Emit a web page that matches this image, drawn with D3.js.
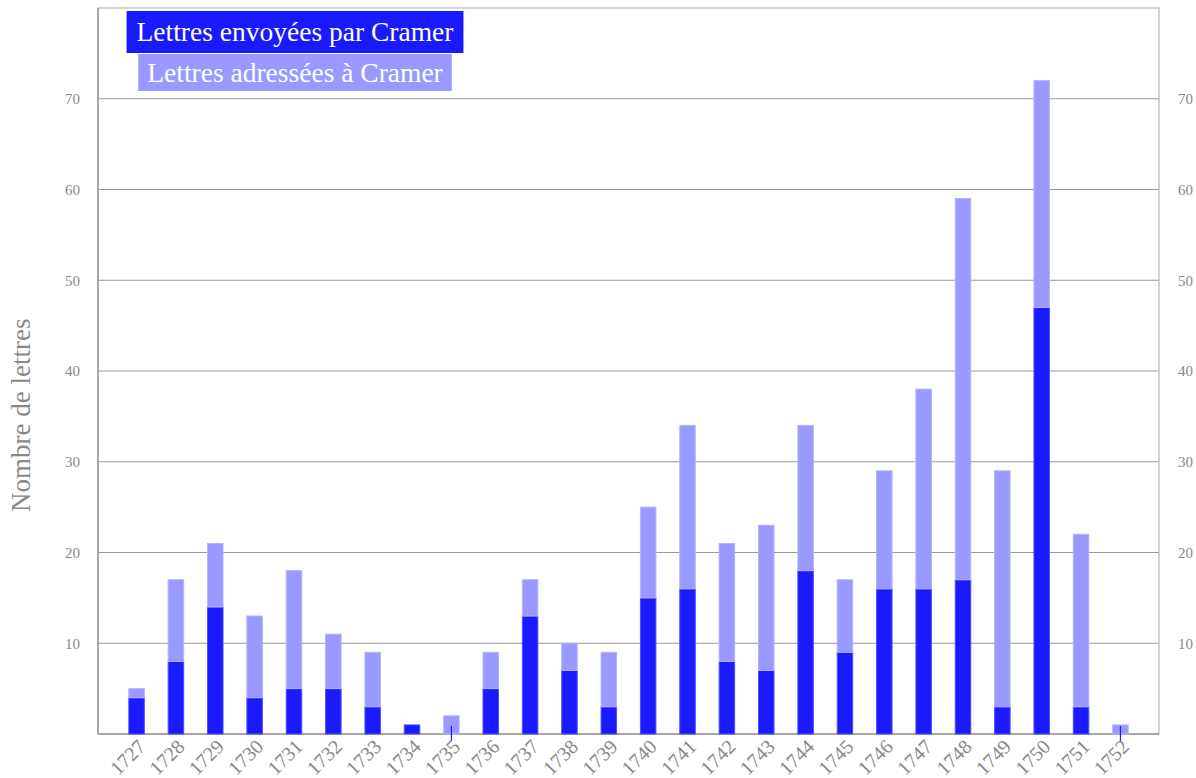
<!DOCTYPE html>
<html>
<head>
<meta charset="utf-8">
<script src="https://cdn.jsdelivr.net/npm/d3@7"></script>
<style>
  html, body { margin: 0; padding: 0; background: #fff; }
  svg { display: block; font-family: "Liberation Serif", "Times New Roman", serif; }
</style>
</head>
<body>
<svg id="chart" width="1196" height="778"></svg>
<script>
// Correspondance de Gabriel Cramer, par année
const years = [1727, 1728, 1729, 1730, 1731, 1732, 1733, 1734, 1735, 1736, 1737, 1738, 1739,
               1740, 1741, 1742, 1743, 1744, 1745, 1746, 1747, 1748, 1749, 1750, 1751, 1752];
const sent     = [4, 8, 14, 4, 5, 5, 3, 1, 0, 5, 13, 7, 3, 15, 16, 8, 7, 18, 9, 16, 16, 17, 3, 47, 3, 0];
const received = [1, 9, 7, 9, 13, 6, 6, 0, 2, 4, 4, 3, 6, 10, 18, 13, 16, 16, 8, 13, 22, 42, 26, 25, 19, 1];
const yTicks = [10, 20, 30, 40, 50, 60, 70];
const seriesNames = ["Lettres envoyées par Cramer", "Lettres adressées à Cramer"];
const colors = ["#1a1aff", "#9999ff"];
const yTitle = "Nombre de lettres";

const margin = { top: 8, right: 37, bottom: 44, left: 98 };
const W = 1196, H = 778;
const iw = W - margin.left - margin.right;
const ih = H - margin.top - margin.bottom;

const svg = d3.select("#chart");
const g = svg.append("g").attr("transform", `translate(${margin.left},${margin.top})`);

const x = d3.scalePoint().domain(years).range([0, iw]).padding(0.98);
const y = d3.scaleLinear().domain([0, 80]).range([ih, 0]);
const barW = 15.5;

// grid lines
g.append("g").selectAll("line").data(yTicks).join("line")
  .attr("x1", 0).attr("x2", iw)
  .attr("y1", d => y(d)).attr("y2", d => y(d))
  .attr("stroke", "#999").attr("stroke-width", 1);

// frame
g.append("rect").attr("x", 0).attr("y", 0).attr("width", iw).attr("height", ih)
  .attr("fill", "none").attr("stroke", "#aaa").attr("stroke-width", 1);
g.append("line").attr("x1", 0).attr("x2", iw).attr("y1", ih).attr("y2", ih)
  .attr("stroke", "#999").attr("stroke-width", 1.5);
g.append("line").attr("x1", 0).attr("x2", 0).attr("y1", 0).attr("y2", ih)
  .attr("stroke", "#999").attr("stroke-width", 1.5);

// stacked bars
const rows = years.map((yr, i) => ({ year: yr, sent: sent[i], received: received[i] }));
const stack = d3.stack().keys(["sent", "received"])(rows);

const layers = g.append("g").selectAll("g").data(stack).join("g")
  .attr("fill", (d, i) => colors[i])
  .attr("stroke", (d, i) => i === 0 ? "#4d4dff" : "#b3b3ff")
  .attr("stroke-width", 1);

layers.selectAll("rect").data(d => d.filter(p => p[1] > p[0])).join("rect")
  .attr("x", d => x(d.data.year) - barW / 2)
  .attr("width", barW)
  .attr("y", d => y(d[1]))
  .attr("height", d => y(d[0]) - y(d[1]));

// zero-valued "sent" entries shown as a short marker crossing the axis
g.append("g").selectAll("line").data(rows.filter(r => r.sent === 0)).join("line")
  .attr("x1", d => x(d.year)).attr("x2", d => x(d.year))
  .attr("y1", y(0) - 8).attr("y2", y(0) + 7)
  .attr("stroke", colors[0]).attr("stroke-width", 1.2);

// y tick labels, both sides
const tickFont = 15, tickColor = "#888";
g.append("g").selectAll("text").data(yTicks).join("text")
  .attr("x", -18).attr("y", d => y(d)).attr("dy", "0.35em")
  .attr("text-anchor", "end").attr("font-size", tickFont).attr("fill", tickColor)
  .text(d => d);
g.append("g").selectAll("text").data(yTicks).join("text")
  .attr("x", iw + 19).attr("y", d => y(d)).attr("dy", "0.35em")
  .attr("text-anchor", "start").attr("font-size", tickFont).attr("fill", tickColor)
  .text(d => d);

// x labels, rotated
g.append("g").selectAll("text").data(years).join("text")
  .attr("transform", d => `translate(${x(d) + 5},${ih + 9}) rotate(-45)`)
  .attr("text-anchor", "end").attr("dy", "0.35em")
  .attr("font-size", 20).attr("fill", tickColor)
  .text(d => d);

// y axis title
svg.append("text")
  .attr("transform", `translate(30,${margin.top + ih * 0.561}) rotate(-90)`)
  .attr("text-anchor", "middle").attr("font-size", 27).attr("fill", "#888")
  .text(yTitle);

// legend
const legend = g.append("g").attr("transform", `translate(${197},0)`);
const legendRows = [
  { name: seriesNames[0], color: colors[0], y: 3, h: 42, pad: 10 },
  { name: seriesNames[1], color: colors[1], y: 46, h: 37, pad: 9 }
];
legendRows.forEach(r => {
  const t = legend.append("text")
    .attr("x", 0).attr("y", r.y + r.h / 2).attr("dy", "0.34em")
    .attr("text-anchor", "middle").attr("font-size", 27.5).attr("fill", "#fff")
    .text(r.name);
  const bb = t.node().getBBox();
  legend.insert("rect", "text")
    .attr("x", bb.x - r.pad).attr("width", bb.width + 2 * r.pad)
    .attr("y", r.y).attr("height", r.h)
    .attr("fill", r.color);
});
</script>
</body>
</html>
